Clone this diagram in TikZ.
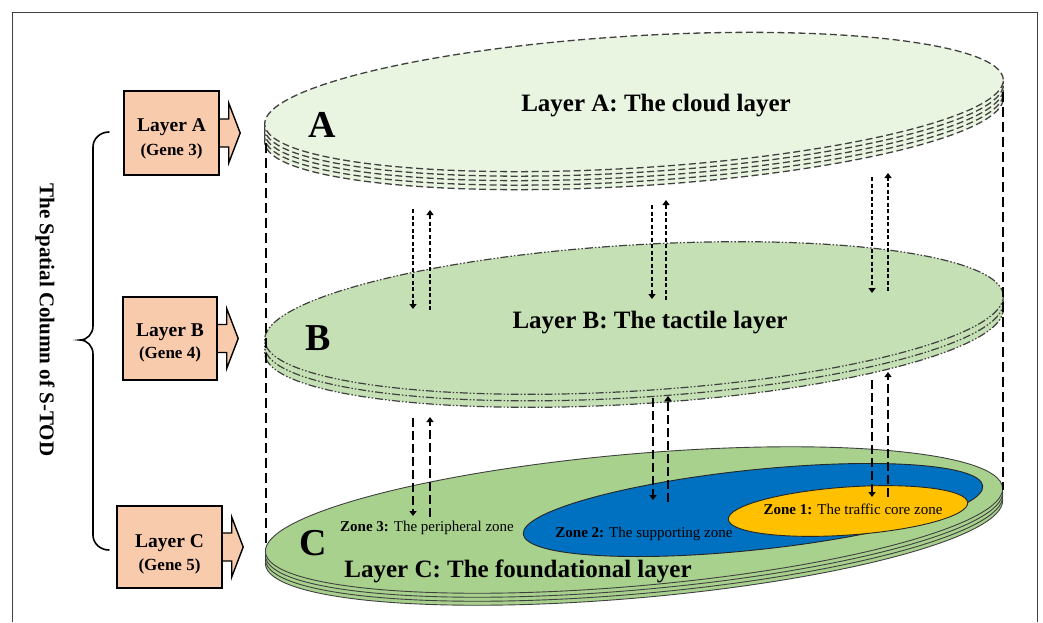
\documentclass[tikz,border=0pt]{standalone}
\usepackage{fontspec}
\setmainfont{Liberation Serif}
\usetikzlibrary{arrows.meta}

\definecolor{cloudfill}{HTML}{E9F4E1}
\definecolor{tactfill}{HTML}{C5E0B4}
\definecolor{foundfill}{HTML}{A9D18E}
\definecolor{zonetwo}{HTML}{0070C0}
\definecolor{zoneone}{HTML}{FFC000}
\definecolor{genefill}{HTML}{F8CBAD}
\definecolor{rim}{HTML}{404040}

\tikzset{
  cloudrim/.style={draw=rim, fill=cloudfill, line width=1.3pt, dash pattern=on 7pt off 3.5pt},
  tactrim/.style={draw=rim, fill=tactfill, line width=1.2pt,
    dash pattern=on 8pt off 2pt on 1.5pt off 2pt on 1.5pt off 2pt},
  foundrim/.style={draw=rim, fill=foundfill, line width=0.9pt},
  zonerim/.style={draw=black!85, line width=0.9pt},
  genebox/.style={draw=black, fill=genefill, line width=1.4pt, inner sep=0pt},
  genearrow/.style={draw=black, fill=genefill, line width=1.4pt, line join=miter},
  genename/.style={font=\bfseries\fontsize{19.5}{22}\selectfont, inner sep=0pt},
  genetag/.style={font=\bfseries\fontsize{17}{20}\selectfont, inner sep=0pt},
  bigletter/.style={font=\bfseries\fontsize{38}{40}\selectfont, inner sep=0pt},
  layertitle/.style={font=\bfseries\fontsize{25}{28}\selectfont, inner sep=0pt},
  zonelabel/.style={font=\fontsize{15}{17}\selectfont, inner sep=0pt},
  column/.style={draw=black, line width=1.6pt, dash pattern=on 10pt off 5pt},
  upflow/.style={draw=black, line width=1.3pt, dash pattern=on 4pt off 2.5pt,
    -{Triangle[width=7pt,length=5pt]}},
  lowflow/.style={draw=black, line width=1.4pt, dash pattern=on 9pt off 4pt,
    -{Triangle[width=7pt,length=5pt]}},
  brace/.style={draw=black, line width=1.6pt, line cap=round},
}

% block arrow pointing right out of a gene box
\newcommand\genepointer[1]{%
  \path[genearrow] (#1.east) ++(-1,-14) -- ++(10,0) -- ++(0,-16) -- ++(11.5,30)
    -- ++(-11.5,30) -- ++(0,-16) -- ++(-10,0) -- cycle;}

\begin{document}
\begin{tikzpicture}[x=1pt, y=-1pt]
\useasboundingbox (0,0) rectangle (1043,622);

% outer frame
\draw[rim, line width=1pt] (12,622) -- (12,12) -- (1037,12) -- (1037,622);

% Layer A: stacked cloud discs
\foreach \k in {4,3,2,1,0}{
  \pgfmathsetmacro\yy{102+4.5*\k}
  \path[cloudrim, rotate around={3.5:(634,\yy)}] (634,\yy) ellipse [x radius=370pt, y radius=66pt];
}

% Layer B: stacked tactile discs
\foreach \k in {2,1,0}{
  \pgfmathsetmacro\yy{318+6.5*\k}
  \path[tactrim, rotate around={3.5:(634,\yy)}] (634,\yy) ellipse [x radius=370pt, y radius=73pt];
}

% Layer C: stacked foundational discs
\foreach \k in {3,2,1,0}{
  \pgfmathsetmacro\yy{520+4*\k}
  \path[foundrim, rotate around={5:(634,\yy)}] (634,\yy) ellipse [x radius=370pt, y radius=66pt];
}

% zones on the foundational layer
\path[zonerim, fill=zonetwo, rotate around={6:(753,510)}] (753,510) ellipse [x radius=231pt, y radius=40pt];
\path[zonerim, fill=zoneone, rotate around={4:(848,511)}] (848,511) ellipse [x radius=120pt, y radius=24pt];

% layer letters and titles
\node[bigletter] (letA) at (322,124.5) {A};
\node[bigletter] (letB) at (318,338) {B};
\node[bigletter] (letC) at (313,543) {C};
\node[layertitle] (titleA) at (656,106) {Layer A: The cloud layer};
\node[layertitle] (titleB) at (650,323) {Layer B: The tactile layer};
\node[layertitle] (titleC) at (518,571) {Layer C: The foundational layer};

\node[zonelabel] (zone3) at (427,528) {\textbf{Zone 3:} The peripheral zone};
\node[zonelabel] (zone2) at (644,534) {\textbf{Zone 2:} The supporting zone};
\node[zonelabel] (zone1) at (853,509) {\textbf{Zone 1:} The traffic core zone};

% column edges
\coordinate (colLtop) at (266,143);
\coordinate (colLbot) at (266,547);
\coordinate (colRtop) at (1003,92);
\coordinate (colRbot) at (1003,490);
\draw[column] (colLtop) -- (colLbot);
\draw[column] (colRtop) -- (colRbot);

% exchanges between layer A and layer B
\coordinate (ab1s) at (413,209); \coordinate (ab1e) at (413,309);
\coordinate (ba1s) at (430,310); \coordinate (ba1e) at (430,210);
\coordinate (ab2s) at (652,205); \coordinate (ab2e) at (652,299);
\coordinate (ba2s) at (666,300); \coordinate (ba2e) at (666,200);
\coordinate (ab3s) at (872,177); \coordinate (ab3e) at (872,293);
\coordinate (ba3s) at (888,291); \coordinate (ba3e) at (888,173);
\foreach \p in {1,2,3}{
  \draw[upflow] (ab\p s) -- (ab\p e);
  \draw[upflow] (ba\p s) -- (ba\p e);
}

% exchanges between layer B and layer C
\coordinate (bc1s) at (413,418); \coordinate (bc1e) at (413,516);
\coordinate (cb1s) at (430,517); \coordinate (cb1e) at (430,417);
\coordinate (bc2s) at (653,398); \coordinate (bc2e) at (653,500);
\coordinate (cb2s) at (668,502); \coordinate (cb2e) at (668,396);
\coordinate (bc3s) at (872,380); \coordinate (bc3e) at (872,497);
\coordinate (cb3s) at (888,497); \coordinate (cb3e) at (888,372);
\foreach \p in {1,2,3}{
  \draw[lowflow] (bc\p s) -- (bc\p e);
  \draw[lowflow] (cb\p s) -- (cb\p e);
}

% gene boxes with their pointers
\node[genebox, minimum width=95pt, minimum height=84pt] (boxA) at (171.5,133) {};
\node[genebox, minimum width=94pt, minimum height=83pt] (boxB) at (170,338.5) {};
\node[genebox, minimum width=105pt, minimum height=82pt] (boxC) at (169.5,547) {};
\genepointer{boxA}
\genepointer{boxB}
\genepointer{boxC}
\node[genebox, minimum width=95pt, minimum height=84pt] at (boxA.center) {};
\node[genebox, minimum width=94pt, minimum height=83pt] at (boxB.center) {};
\node[genebox, minimum width=105pt, minimum height=82pt] at (boxC.center) {};

\node[genename] (nameA) at (171.5,127.5) {Layer A};
\node[genetag]  (tagA)  at (171.5,151) {(Gene 3)};
\node[genename] (nameB) at (170,332.5) {Layer B};
\node[genetag]  (tagB)  at (170,354) {(Gene 4)};
\node[genename] (nameC) at (169.5,543) {Layer C};
\node[genetag]  (tagC)  at (169.5,566) {(Gene 5)};

% brace grouping the three layers
\draw[brace] (109,132) to[out=180,in=90] (93,147) -- (93,326)
  to[out=-90,in=0] (80,340) to[out=0,in=90] (93,354) -- (93,535)
  to[out=-90,in=180] (109,550);
\node[font=\bfseries\fontsize{21}{24}\selectfont, rotate=-90, inner sep=0pt] (spine) at (45,320)
  {The Spatial Column of S-TOD};
\end{tikzpicture}
\end{document}
